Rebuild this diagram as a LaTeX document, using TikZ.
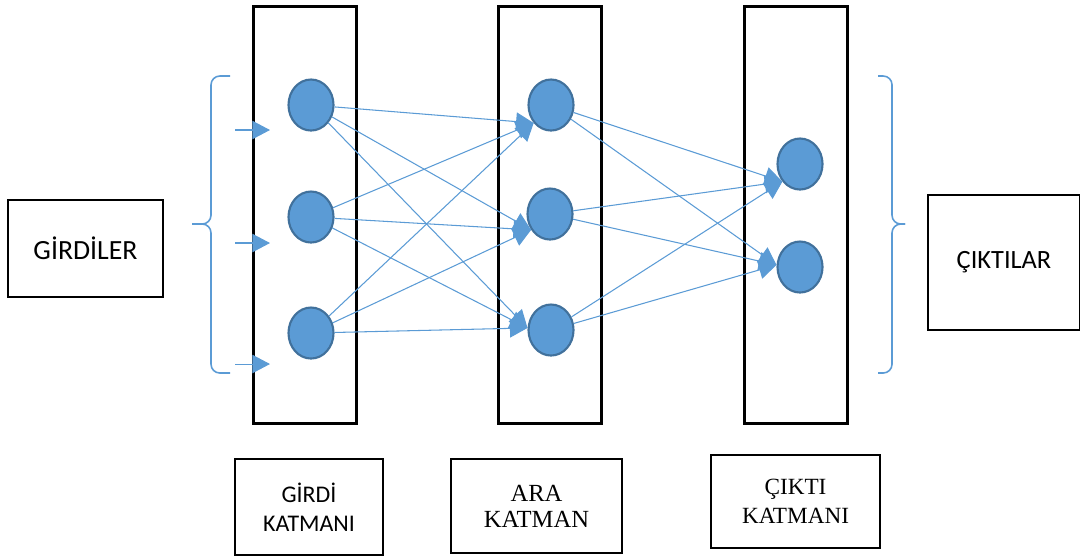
\documentclass[tikz,border=0pt]{standalone}
\usepackage{fontspec}
\setmainfont{Liberation Serif}
\setsansfont{Carlito}
\usetikzlibrary{arrows.meta,shapes.geometric}
\definecolor{nblue}{HTML}{5B9BD5}
\definecolor{nedge}{HTML}{41719C}

\begin{document}
\begin{tikzpicture}[x=0.01cm, y=-0.01cm,
		layer/.style={draw=black, line width=0.85pt, minimum width=1.02cm, minimum height=4.16cm, inner sep=0},
		neuron/.style={ellipse, draw=nedge, line width=0.6pt, fill=nblue, minimum width=0.45cm, minimum height=0.51cm, inner sep=0},
		link/.style={draw=nblue, line width=0.3pt, -{Triangle[length=5pt, width=5.2pt]}},
		textbox/.style={draw=black, line width=0.75pt, inner sep=0, align=center},
		brace/.style={draw=nblue, line width=0.45pt, rounded corners=2.5pt}]
		%%%%% START %%%%%
		\useasboundingbox (0, 0) rectangle (1080, 556);
		
		% layers
		\node[layer] (lin) at (305, 215) {};
		\node[layer] (lhid) at (550, 215) {};
		\node[layer] (lout) at (796, 215) {};
		
		% neurons
		\node[neuron] (i1) at (311, 105) {};
		\node[neuron] (i2) at (311, 217) {};
		\node[neuron] (i3) at (311, 333) {};
		\node[neuron] (h1) at (551, 105) {};
		\node[neuron] (h2) at (550, 214) {};
		\node[neuron] (h3) at (551, 330) {};
		\node[neuron] (o1) at (800, 164) {};
		\node[neuron] (o2) at (800, 267) {};
		
		% input -> hidden
		\foreach \s in {i1, i2, i3} {
			\draw[link] (\s) -- (h1.226);
			\draw[link] (\s) -- (h2.220);
			\draw[link] (\s) -- (h3.175);
		}
		% hidden -> output
		\foreach \s in {h1, h2, h3} {
			\draw[link] (\s) -- (o1.225);
			\draw[link] (\s) -- (o2.175);
		}
		
		% inputs
		\coordinate (a1) at (235, 130);
		\coordinate (b1) at (270, 130);
		\coordinate (a2) at (235, 243);
		\coordinate (b2) at (270, 243);
		\coordinate (a3) at (235, 364);
		\coordinate (b3) at (270, 364);
		\draw[link] (a1) -- (b1);
		\draw[link] (a2) -- (b2);
		\draw[link] (a3) -- (b3);
		
		% braces
		\draw[brace] (230, 76) -| (211, 224) -- (192, 224);
		\draw[brace] (192, 224) -- (211, 224) |- (230, 373);
		\draw[brace] (878, 76) -| (892, 224) -- (905, 224);
		\draw[brace] (905, 224) -- (892, 224) |- (878, 373);
		
		% boxes
		\node[textbox, minimum width=1.55cm, minimum height=0.97cm, font=\sffamily\fontsize{7.9}{9}\selectfont] (girdiler) at (85.5, 248.5) {GİRDİLER};
		\node[textbox, minimum width=1.52cm, minimum height=1.35cm, text width=1.52cm, font=\sffamily\fontsize{7.5}{9}\selectfont] (ciktilar) at (1004, 262.5) {ÇIKTILAR};
		\draw[black, line width=0.75pt] (1082, 195) -- (928, 195) -- (928, 330) -- (1082, 330);
		
		\node[textbox, minimum width=1.48cm, minimum height=0.96cm, font=\sffamily\fontsize{6.8}{8.2}\selectfont] (kin) at (309, 507) {GİRDİ\\KATMANI};
		\node[textbox, minimum width=1.71cm, minimum height=0.94cm, font=\fontsize{7}{7.4}\selectfont] (khid) at (536.5, 506) {ARA\\KATMAN};
		\node[textbox, minimum width=1.69cm, minimum height=0.93cm, font=\fontsize{6.6}{8.1}\selectfont] (kout) at (795.5, 501.5) {ÇIKTI\\KATMANI};
		%%%%% END %%%%%
\end{tikzpicture}
\end{document}
